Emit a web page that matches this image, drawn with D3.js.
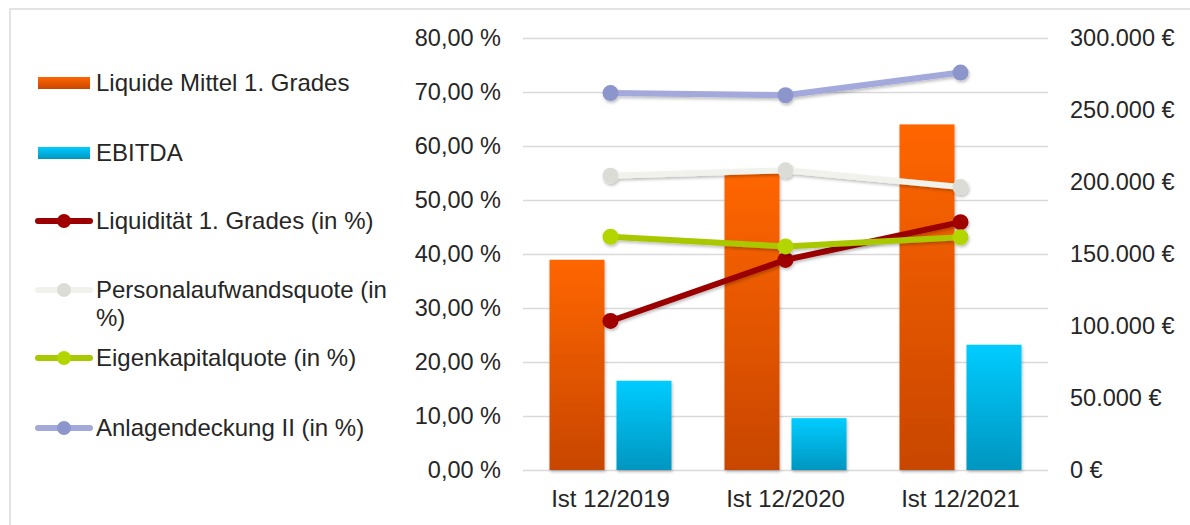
<!DOCTYPE html>
<html>
<head>
<meta charset="utf-8">
<script src="https://cdn.jsdelivr.net/npm/d3@7"></script>
<style>
  body { margin: 0; background: #fff; }
  svg { display: block; font-family: "Liberation Sans", Arial, sans-serif; }
  .tick-label { font-size: 23.5px; fill: #262626; }
  .x-label { font-size: 24px; fill: #262626; }
  .legend-label { font-size: 24px; fill: #262626; }
</style>
</head>
<body>
<div id="diagram"></div>
<script>
// Data
var categories = ['Ist 12/2019', 'Ist 12/2020', 'Ist 12/2021'];
var liquideMittel = [146000, 206000, 240000];
var ebitda = [62000, 36000, 87000];
var liquiditaet = [27.6, 38.9, 45.9];
var personalQuote = [54.5, 55.5, 52.4];
var eigenkapitalQuote = [43.2, 41.4, 43.1];
var anlagendeckung = [69.8, 69.4, 73.6];
var leftTicks = [0, 10, 20, 30, 40, 50, 60, 70, 80];
var rightTicks = [0, 50000, 100000, 150000, 200000, 250000, 300000];

function init() {
  var w = 1190;
  var h = 525;

  var svg = d3
    .select('#diagram')
    .append('svg')
    .attr('width', w)
    .attr('height', h);

  var defs = svg.append('defs');

  // Gradients for bars
  var gOrange = defs.append('linearGradient').attr('id', 'gradOrange')
    .attr('x1', 0).attr('y1', 0).attr('x2', 0).attr('y2', 1);
  gOrange.append('stop').attr('offset', '0%').attr('stop-color', '#ff6600');
  gOrange.append('stop').attr('offset', '100%').attr('stop-color', '#c84600');

  var gBlue = defs.append('linearGradient').attr('id', 'gradBlue')
    .attr('x1', 0).attr('y1', 0).attr('x2', 0).attr('y2', 1);
  gBlue.append('stop').attr('offset', '0%').attr('stop-color', '#00ccff');
  gBlue.append('stop').attr('offset', '100%').attr('stop-color', '#0096c0');

  // Soft shadow
  var shadow = defs.append('filter').attr('id', 'shadow')
    .attr('x', '-20%').attr('y', '-20%').attr('width', '140%').attr('height', '140%');
  shadow.append('feDropShadow')
    .attr('dx', 1).attr('dy', 2).attr('stdDeviation', 1.5)
    .attr('flood-color', '#000').attr('flood-opacity', 0.25);

  // Frame
  svg.append('line').attr('x1', 10).attr('x2', w).attr('y1', 9).attr('y2', 9)
    .attr('stroke', '#e3e3e3').attr('stroke-width', 2);
  svg.append('line').attr('x1', 10).attr('x2', 10).attr('y1', 8).attr('y2', h)
    .attr('stroke', '#e3e3e3').attr('stroke-width', 2);

  // Scales
  var left = 523;
  var right = 1048;
  var top = 38;
  var bottom = 470;

  var xScale = d3.scaleBand().domain(categories).range([left, right]);

  var barGroup = d3.scaleBand()
    .domain(['liquide', 'ebitda'])
    .range([26.5, xScale.bandwidth() - 26.5])
    .paddingInner(0.179);

  var yLeft = d3.scaleLinear().domain([0, 80]).range([bottom, top]);
  var yRight = d3.scaleLinear().domain([0, 300000]).range([bottom, top]);

  // Gridlines
  svg.append('g')
    .selectAll('line')
    .data(leftTicks)
    .enter()
    .append('line')
    .attr('x1', left)
    .attr('x2', right)
    .attr('y1', (d) => Math.round(yLeft(d)) + 0.5)
    .attr('y2', (d) => Math.round(yLeft(d)) + 0.5)
    .attr('stroke', '#d9d9d9')
    .attr('stroke-width', 1.5);

  // Left axis
  var fmtPct = (d) => d.toFixed(2).replace('.', ',') + ' %';
  var yAxisLeft = d3.axisLeft(yLeft).tickValues(leftTicks).tickFormat(fmtPct).tickSize(0).tickPadding(22);
  var gl = svg.append('g').attr('transform', `translate(${left}, 0)`).call(yAxisLeft);
  gl.select('.domain').remove();
  gl.selectAll('text').attr('class', 'tick-label').attr('fill', null);

  // Right axis
  var fmtEur = (d) => (d === 0 ? '0' : d3.format(',')(d).replace(/,/g, '.')) + ' €';
  var yAxisRight = d3.axisRight(yRight).tickValues(rightTicks).tickFormat(fmtEur).tickSize(0).tickPadding(22);
  var gr = svg.append('g').attr('transform', `translate(${right}, 0)`).call(yAxisRight);
  gr.select('.domain').remove();
  gr.selectAll('text').attr('class', 'tick-label').attr('fill', null);

  // X axis
  var xAxis = d3.axisBottom(xScale).tickSize(0).tickPadding(20);
  var gx = svg.append('g').attr('transform', `translate(0, ${bottom})`).call(xAxis);
  gx.select('.domain').remove();
  gx.selectAll('text').attr('class', 'x-label').attr('fill', null);

  // Bars
  var barSeries = [
    { key: 'liquide', values: liquideMittel, fill: 'url(#gradOrange)' },
    { key: 'ebitda', values: ebitda, fill: 'url(#gradBlue)' }
  ];
  barSeries.forEach((s) => {
    svg.append('g')
      .selectAll('rect')
      .data(s.values)
      .enter()
      .append('rect')
      .attr('x', (d, i) => xScale(categories[i]) + barGroup(s.key))
      .attr('y', (d) => yRight(d))
      .attr('width', barGroup.bandwidth())
      .attr('height', (d) => bottom - yRight(d))
      .attr('fill', s.fill)
      .attr('filter', 'url(#shadow)');
  });

  // Lines
  var lineSeries = [
    { values: liquiditaet, stroke: '#9b0000', marker: '#a00000' },
    { values: personalQuote, stroke: '#f2f2ec', marker: '#dcdcd6' },
    { values: eigenkapitalQuote, stroke: '#a9c800', marker: '#b4d600' },
    { values: anlagendeckung, stroke: '#a3a9da', marker: '#8c96cc' }
  ];
  var line = d3.line()
    .x((d, i) => xScale(categories[i]) + xScale.bandwidth() / 2)
    .y((d) => yLeft(d));

  lineSeries.forEach((s) => {
    var g = svg.append('g').attr('filter', 'url(#shadow)');
    g.append('path')
      .datum(s.values)
      .attr('d', line)
      .attr('fill', 'none')
      .attr('stroke', s.stroke)
      .attr('stroke-width', 6)
      .attr('stroke-linejoin', 'round');
    g.selectAll('circle')
      .data(s.values)
      .enter()
      .append('circle')
      .attr('cx', (d, i) => xScale(categories[i]) + xScale.bandwidth() / 2)
      .attr('cy', (d) => yLeft(d))
      .attr('r', 8)
      .attr('fill', s.marker);
  });

  // Legend
  var legend = [
    { type: 'bar', fill: 'url(#gradOrange)', lines: ['Liquide Mittel 1. Grades'], y: 83 },
    { type: 'bar', fill: 'url(#gradBlue)', lines: ['EBITDA'], y: 153 },
    { type: 'line', stroke: '#9b0000', marker: '#a00000', lines: ['Liquidität 1. Grades (in %)'], y: 221 },
    { type: 'line', stroke: '#f2f2ec', marker: '#dcdcd6', lines: ['Personalaufwandsquote (in', '%)'], y: 290 },
    { type: 'line', stroke: '#a9c800', marker: '#b4d600', lines: ['Eigenkapitalquote (in %)'], y: 358 },
    { type: 'line', stroke: '#a3a9da', marker: '#8c96cc', lines: ['Anlagendeckung II (in %)'], y: 428 }
  ];

  legend.forEach((item) => {
    var g = svg.append('g');
    if (item.type === 'bar') {
      g.append('rect')
        .attr('x', 38).attr('y', item.y - 6)
        .attr('width', 52).attr('height', 12)
        .attr('fill', item.fill);
    } else {
      g.append('line')
        .attr('x1', 38).attr('x2', 90)
        .attr('y1', item.y).attr('y2', item.y)
        .attr('stroke', item.stroke).attr('stroke-width', 6)
        .attr('stroke-linecap', 'round');
      g.append('circle')
        .attr('cx', 64).attr('cy', item.y).attr('r', 7)
        .attr('fill', item.marker);
    }
    var t = g.append('text').attr('class', 'legend-label')
      .attr('x', 96).attr('y', item.y + 8);
    item.lines.forEach((l, i) => {
      t.append('tspan').attr('x', 96).attr('dy', i === 0 ? 0 : 28).text(l);
    });
  });
}

window.onload = init;
</script>
</body>
</html>
